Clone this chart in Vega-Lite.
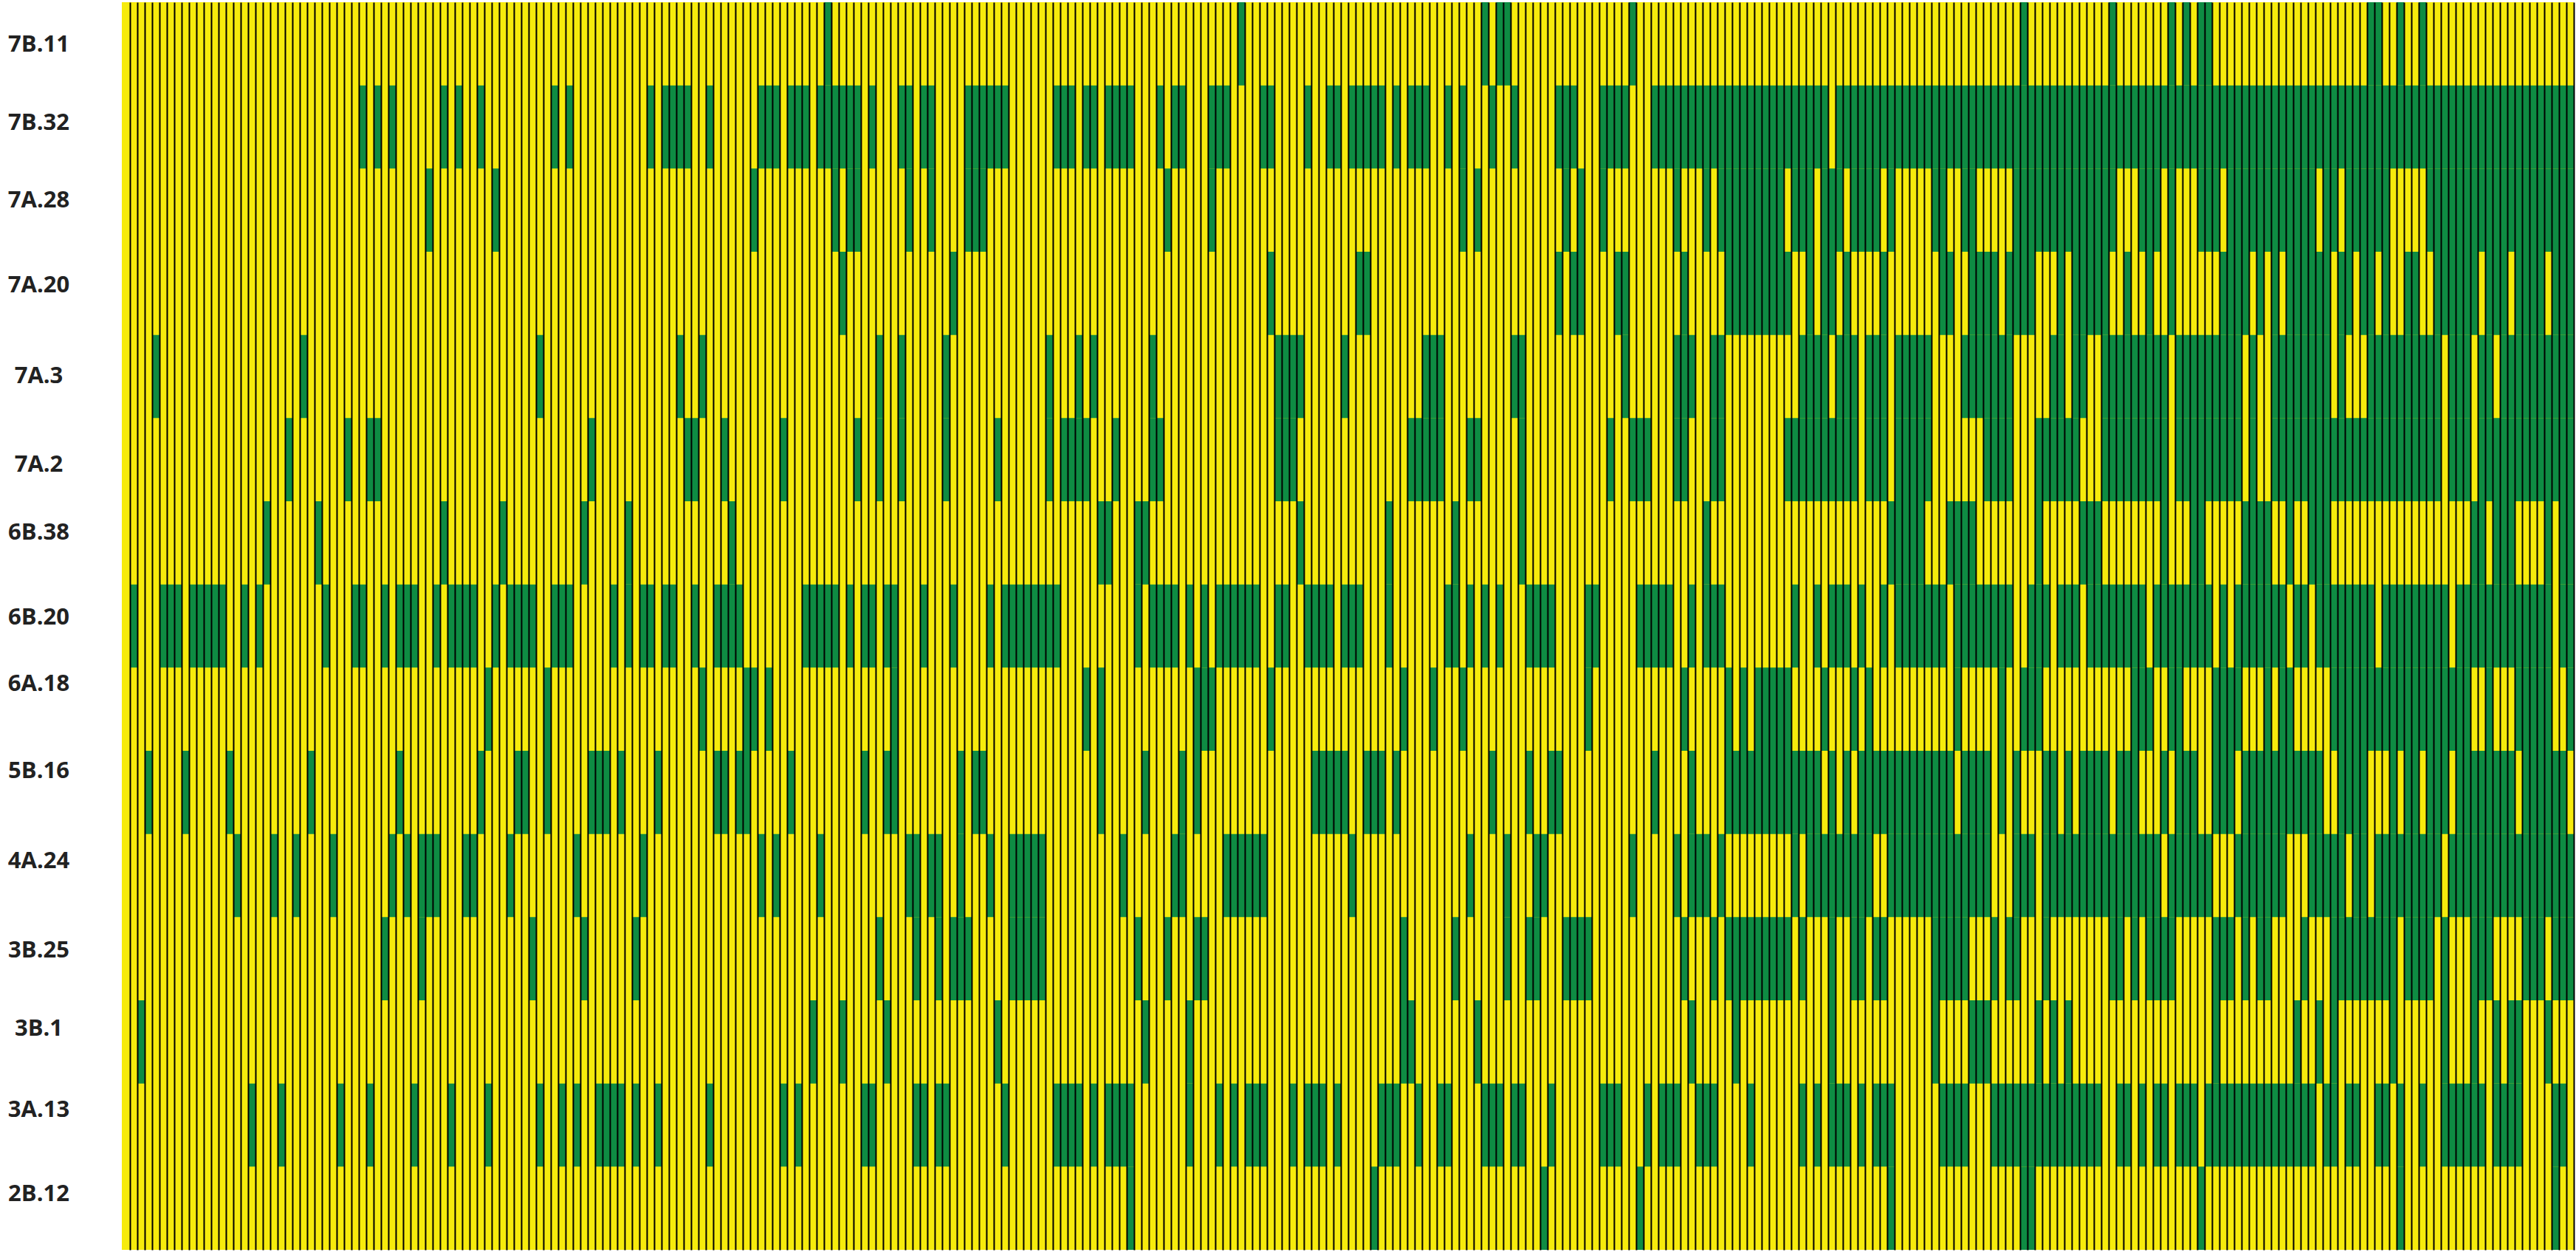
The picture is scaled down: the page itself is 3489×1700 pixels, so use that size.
{"$schema":"https://vega.github.io/schema/vega-lite/v6.json","autosize":{"type":"none"},"padding":{"left":165,"top":3,"right":3,"bottom":7},"width":3321,"height":1690,"background":"#ffffff","config":{"view":{"fill":"#F6EB0C","stroke":null}},"data":{"values":[
{"row":"7B.11","cols":[95,151,184,186,187,204,257,269,277,279,281,282,304,305,308,311]},
{"row":"7B.32","cols":[32,34,36,43,45,48,58,60,71,73,74,75,76,79,86,87,88,90,91,92,94,95,96,97,98,99,101,105,106,108,109,114,115,116,117,118,119,126,127,128,130,131,133,134,135,136,140,142,143,147,148,149,154,155,160,163,164,166,167,168,169,170,172,174,175,176,179,181,185,188,194,195,196,200,201,202,203,207,208,209,210,211,212,213,214,215,216,217,218,219,220,221,222,223,224,225,226,227,228,229,230,232,233,234,235,236,237,238,239,240,241,242,243,244,245,246,247,248,249,250,251,252,253,254,255,256,257,258,259,260,261,262,263,264,265,266,267,268,269,270,271,272,273,274,275,276,277,278,279,280,281,282,283,284,285,286,287,288,289,290,291,292,293,294,295,296,297,298,299,300,301,302,303,304,305,306,307,308,309,310,311,312,313,314,315,316,317,318,319,320,321,322,323,324,325,326,327,328,329,330,331]},
{"row":"7A.28","cols":[41,50,85,96,98,99,106,109,114,115,116,141,147,181,183,195,197,200,210,214,216,217,218,219,220,221,222,223,224,226,227,228,230,231,232,234,235,236,237,239,245,246,249,250,256,257,258,259,260,261,262,263,264,265,266,267,268,269,273,274,275,277,281,282,283,285,286,287,288,289,290,291,292,293,294,295,296,298,299,301,302,303,304,305,306,312,313,314,315,316,317,318,319,320,321,322,323,324,325,326,327,328,329,330,331]},
{"row":"7A.20","cols":[97,112,155,167,168,194,196,197,202,203,211,217,218,219,220,221,222,223,224,225,228,230,231,233,238,246,247,250,251,252,253,255,256,257,258,262,264,265,266,267,268,271,274,277,284,285,286,287,289,291,293,294,295,296,297,298,300,301,303,304,306,309,310,313,314,315,316,317,318,320,321,322,324,325,326,327,329,330,331]},
{"row":"7A.3","cols":[4,24,56,75,78,102,105,111,125,129,131,139,156,157,158,159,165,176,177,178,188,189,203,210,211,212,215,216,227,228,229,230,232,233,234,236,237,238,240,241,242,243,244,249,250,251,252,253,254,255,261,262,264,265,268,269,270,271,272,273,274,275,276,278,279,280,281,282,283,284,285,286,288,291,292,293,294,295,296,297,298,300,304,305,306,307,308,309,310,311,312,313,315,316,317,319,320,322,323,324,325,326,327,328,329,330,331]},
{"row":"7A.2","cols":[22,30,33,34,63,76,77,81,89,99,102,105,111,118,125,127,128,129,130,134,139,140,156,157,158,174,175,176,177,178,182,183,189,201,204,205,206,210,211,215,216,225,226,227,228,229,230,231,232,233,234,236,237,238,240,241,242,243,244,252,253,254,255,259,260,261,262,263,264,268,269,270,271,272,273,274,275,276,278,279,280,281,282,283,284,285,286,288,291,292,293,294,295,296,297,298,299,300,301,302,303,304,305,306,307,308,309,310,311,312,313,315,316,317,319,320,321,322,323,324,325,326,327,328,329,330,331]},
{"row":"6B.38","cols":[19,26,43,51,62,68,82,132,133,137,138,159,171,180,189,214,239,240,241,242,243,247,248,249,250,259,265,266,267,276,280,281,287,288,289,290,293,296,297,298,318,319,321,322,323,328,330,331]},
{"row":"6B.20","cols":[1,5,6,7,9,10,11,12,13,16,18,27,31,32,35,37,38,39,42,44,45,46,47,50,52,53,54,55,58,59,60,66,68,70,71,73,74,77,80,81,82,83,92,93,94,95,96,98,100,101,103,104,108,112,117,119,120,121,122,123,124,125,126,137,139,140,141,142,144,146,148,149,150,151,152,153,156,157,160,161,162,163,165,166,167,171,179,180,182,184,186,190,191,192,193,198,199,205,206,207,208,209,212,214,215,216,226,229,231,232,233,235,238,240,241,242,243,244,245,246,248,249,250,251,252,253,254,255,258,259,260,262,263,264,266,267,268,269,270,271,272,273,275,276,277,278,279,280,281,282,284,286,287,288,289,290,291,292,294,295,297,298,299,300,301,302,303,304,306,307,308,309,310,311,312,313,314,316,317,318,319,320,321,322,323,324,325,326,327,328,330,331]},
{"row":"6A.18","cols":[49,57,78,84,85,87,104,130,132,145,146,147,155,173,177,181,198,211,217,219,221,222,223,224,225,230,234,236,248,254,257,258,259,272,273,274,277,278,283,284,285,286,290,292,293,299,300,301,302,303,304,305,306,307,308,309,310,311,312,313,314,315,316,317,320,324,325,326,327,328,331]},
{"row":"5B.16","cols":[3,8,14,25,37,48,53,54,57,63,64,65,67,72,80,81,83,84,90,100,103,104,113,115,116,132,138,143,145,161,162,163,164,165,168,169,170,172,185,190,193,194,207,212,217,218,219,220,221,222,223,224,225,226,227,228,229,231,233,235,236,237,238,239,240,241,242,243,244,245,246,247,249,250,251,252,254,256,260,261,263,265,266,267,268,270,271,272,276,278,279,280,283,284,285,287,288,289,290,291,292,293,294,295,296,297,300,301,302,303,307,309,310,312,313,314,316,317,318,319,320,321,322,323,325,326,327,328,329,330]},
{"row":"4A.24","cols":[15,20,23,28,36,38,40,41,42,46,47,52,61,70,86,88,94,106,107,109,110,113,117,120,121,122,123,124,135,142,143,149,150,151,152,153,154,166,182,187,191,192,204,210,212,213,214,216,226,228,229,230,231,232,233,234,235,236,239,240,241,242,243,244,245,246,247,248,249,250,251,252,256,257,258,260,261,262,263,264,265,266,267,268,269,270,271,272,273,274,275,277,278,279,280,281,282,286,287,288,289,290,291,292,296,297,298,299,300,302,303,305,306,307,308,309,310,311,312,313,315,316,317,318,319,320,321,322,323,324,325,326,327,328,329,330,331]},
{"row":"3B.25","cols":[35,40,55,62,69,102,107,110,112,113,114,120,121,122,123,124,137,141,145,146,173,180,187,190,191,195,196,197,198,211,215,217,218,219,220,221,222,223,224,225,227,231,234,235,237,238,245,246,247,248,249,253,255,256,260,269,270,272,274,275,276,277,283,284,285,287,289,290,295,299,300,301,302,303,304,305,306,307,309,310,311,312,314,318,319,320,325,326,327,329,330,331]},
{"row":"3B.1","cols":[2,93,97,103,118,138,144,173,174,183,212,218,231,245,250,251,252,259,261,263,283,294,297,299,307,314,318,321,323,324,328]},
{"row":"3A.13","cols":[17,21,29,33,39,44,49,56,59,61,64,65,66,67,69,72,79,89,91,100,101,107,108,110,111,119,126,127,128,129,131,133,134,135,136,144,148,150,152,153,154,158,160,161,162,164,170,171,172,175,178,179,184,185,186,188,189,193,200,201,202,206,208,209,210,213,214,215,220,227,229,231,232,233,235,237,238,239,246,247,248,249,253,254,255,256,257,258,259,260,261,262,263,264,265,266,267,270,271,273,275,276,278,279,280,282,283,284,285,286,287,288,289,290,291,292,293,294,295,296,298,299,301,302,305,306,308,311,314,315,316,317,318,319,321,322,323,324,329,330]},
{"row":"2B.12","cols":[136,169,192,205,239,257,258,281,308,329]}
]},"transform":[{"flatten":["cols"]}],"mark":{"type":"rect","color":"#0E8C43"},"encoding":{"x":{"field":"cols","type":"ordinal","scale":{"domain":[0,1,2,3,4,5,6,7,8,9,10,11,12,13,14,15,16,17,18,19,20,21,22,23,24,25,26,27,28,29,30,31,32,33,34,35,36,37,38,39,40,41,42,43,44,45,46,47,48,49,50,51,52,53,54,55,56,57,58,59,60,61,62,63,64,65,66,67,68,69,70,71,72,73,74,75,76,77,78,79,80,81,82,83,84,85,86,87,88,89,90,91,92,93,94,95,96,97,98,99,100,101,102,103,104,105,106,107,108,109,110,111,112,113,114,115,116,117,118,119,120,121,122,123,124,125,126,127,128,129,130,131,132,133,134,135,136,137,138,139,140,141,142,143,144,145,146,147,148,149,150,151,152,153,154,155,156,157,158,159,160,161,162,163,164,165,166,167,168,169,170,171,172,173,174,175,176,177,178,179,180,181,182,183,184,185,186,187,188,189,190,191,192,193,194,195,196,197,198,199,200,201,202,203,204,205,206,207,208,209,210,211,212,213,214,215,216,217,218,219,220,221,222,223,224,225,226,227,228,229,230,231,232,233,234,235,236,237,238,239,240,241,242,243,244,245,246,247,248,249,250,251,252,253,254,255,256,257,258,259,260,261,262,263,264,265,266,267,268,269,270,271,272,273,274,275,276,277,278,279,280,281,282,283,284,285,286,287,288,289,290,291,292,293,294,295,296,297,298,299,300,301,302,303,304,305,306,307,308,309,310,311,312,313,314,315,316,317,318,319,320,321,322,323,324,325,326,327,328,329,330,331],"paddingInner":0,"paddingOuter":0.1,"align":1},"axis":{"title":null,"labels":false,"ticks":false,"domain":false,"grid":true,"gridColor":"#000000","gridWidth":2,"bandPosition":1,"zindex":1}},"y":{"field":"row","type":"nominal","sort":null,"scale":{"domain":["7B.11","7B.32","7A.28","7A.20","7A.3","7A.2","6B.38","6B.20","6A.18","5B.16","4A.24","3B.25","3B.1","3A.13","2B.12"],"paddingInner":0,"paddingOuter":0},"axis":{"title":null,"ticks":false,"domain":false,"grid":false,"labelFont":"Open Sans","labelFontWeight":"bold","labelFontSize":31,"labelColor":"#222222","labelAlign":"center","labelPadding":113,"labelOffset":{"condition":[{"test":"datum.label==='7B.11'","value":2},{"test":"datum.label==='7B.32'","value":-5},{"test":"datum.label==='7A.28'","value":-13},{"test":"datum.label==='7A.20'","value":-10},{"test":"datum.label==='7A.3'","value":0},{"test":"datum.label==='7A.2'","value":7},{"test":"datum.label==='6B.38'","value":-13},{"test":"datum.label==='6B.20'","value":-11},{"test":"datum.label==='6A.18'","value":-34},{"test":"datum.label==='5B.16'","value":-28},{"test":"datum.label==='4A.24'","value":-19},{"test":"datum.label==='3B.25'","value":-11},{"test":"datum.label==='3B.1'","value":-17},{"test":"datum.label==='3A.13'","value":-20},{"test":"datum.label==='2B.12'","value":-19}],"value":0}}}}}
